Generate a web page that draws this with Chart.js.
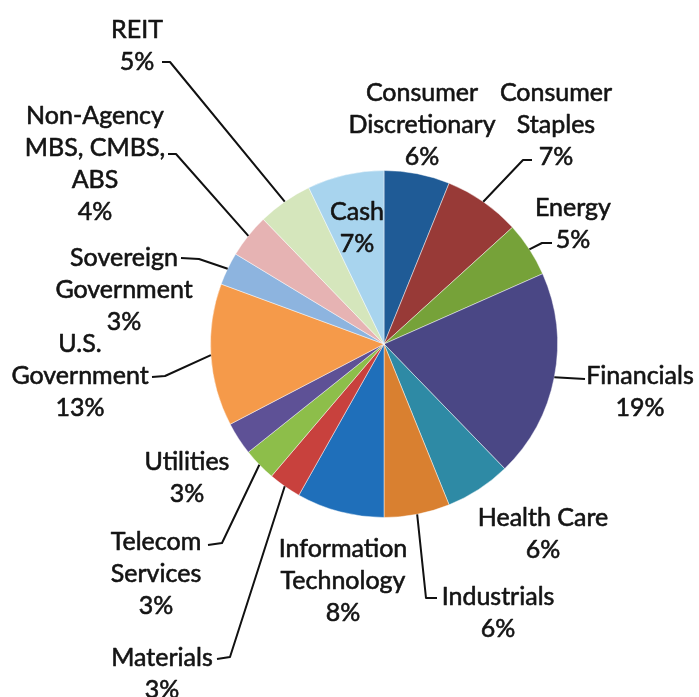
<!DOCTYPE html>
<html lang="en">
<head>
  <meta charset="UTF-8"/>
  <title>Portfolio Allocation</title>
  <script src="https://cdn.jsdelivr.net/npm/chart.js"></script>
  <style>
    html, body { margin: 0; padding: 0; background: #fff; }
    #wrap { width: 699px; height: 697px; position: relative; }
  </style>
</head>
<body>
  <div id="wrap">
    <canvas id="allocChart"></canvas>
  </div>

  <script>
    // Sector / asset class weights, clockwise from 12 o'clock
    const sectors = [
      'Consumer Discretionary', 'Consumer Staples', 'Energy', 'Financials',
      'Health Care', 'Industrials', 'Information Technology', 'Materials',
      'Telecom Services', 'Utilities', 'U.S. Government', 'Sovereign Government',
      'Non-Agency MBS, CMBS, ABS', 'REIT', 'Cash'
    ];
    const shares = [6, 7, 5, 19, 6, 6, 8, 3, 3, 3, 13, 3, 4, 5, 7];

    // how each name wraps on the chart
    const nameLines = [
      ['Consumer', 'Discretionary'], ['Consumer', 'Staples'], ['Energy'], ['Financials'],
      ['Health Care'], ['Industrials'], ['Information', 'Technology'], ['Materials'],
      ['Telecom', 'Services'], ['Utilities'], ['U.S.', 'Government'], ['Sovereign', 'Government'],
      ['Non-Agency', 'MBS, CMBS,', 'ABS'], ['REIT'], ['Cash']
    ];

    const sliceColors = [
      '#1f5b96', '#983a37', '#76a239', '#4a4785', '#2e8aa5', '#d98030', '#1f6fba',
      '#c8413d', '#8dbe4a', '#5e5196', '#f59a4a', '#8db4df', '#e6b3b3', '#d5e6bc', '#a8d4ee'
    ];

    // label block centre (x, first line y) and leader line bends, outward from the slice
    const labelLayout = [
      { x: 422, y: 93 },
      { x: 556, y: 93, leader: [[523, 160], [532, 160]] },
      { x: 573, y: 208, leader: [[542, 243], [552, 243]] },
      { x: 640, y: 376, leader: [[585, 379]] },
      { x: 543, y: 518 },
      { x: 498, y: 597, leader: [[426, 598], [437, 598]] },
      { x: 343, y: 549 },
      { x: 162, y: 658, leader: [[230, 657], [217, 659]] },
      { x: 156, y: 542, leader: [[222, 543], [208, 545]] },
      { x: 187, y: 462 },
      { x: 80, y: 344, leader: [[165, 376], [152, 377]] },
      { x: 124, y: 258, leader: [[199, 259], [181, 258]] },
      { x: 95, y: 116, leader: [[176, 154], [168, 154]] },
      { x: 137, y: 30, leader: [[170, 62], [162, 62]] },
      { x: 357, y: 212 }
    ];

    const lineGap = 32;

    const calloutPlugin = {
      id: 'callouts',
      afterDatasetsDraw(chart) {
        const ctx = chart.ctx;
        const arcs = chart.getDatasetMeta(0).data;
        ctx.save();
        ctx.strokeStyle = '#111';
        ctx.lineWidth = 2;
        ctx.lineJoin = 'round';
        arcs.forEach((arc, i) => {
          const lay = labelLayout[i];
          if (!lay.leader) return;
          const p = arc.getProps(['x', 'y', 'startAngle', 'endAngle', 'outerRadius'], true);
          const mid = (p.startAngle + p.endAngle) / 2;
          ctx.beginPath();
          ctx.moveTo(p.x + Math.cos(mid) * p.outerRadius, p.y + Math.sin(mid) * p.outerRadius);
          lay.leader.forEach(pt => ctx.lineTo(pt[0], pt[1]));
          ctx.stroke();
        });

        // slightly heavier text: fill plus a thin outline in the same colour
        ctx.fillStyle = '#141414';
        ctx.strokeStyle = '#141414';
        ctx.lineWidth = 0.6;
        ctx.font = '25px Lato, sans-serif';
        ctx.textAlign = 'center';
        ctx.textBaseline = 'middle';
        shares.forEach((v, i) => {
          const lay = labelLayout[i];
          const lines = nameLines[i].concat([v + '%']);
          lines.forEach((t, k) => {
            ctx.fillText(t, lay.x, lay.y + k * lineGap);
            ctx.strokeText(t, lay.x, lay.y + k * lineGap);
          });
        });
        ctx.restore();
      }
    };

    new Chart(document.getElementById('allocChart'), {
      type: 'pie',
      data: {
        labels: sectors,
        datasets: [{
          data: shares,
          backgroundColor: sliceColors,
          borderColor: 'rgba(255,255,255,0.45)',
          borderWidth: 1
        }]
      },
      options: {
        responsive: true,
        maintainAspectRatio: false,
        animation: false,
        layout: { padding: { left: 210, right: 141, top: 170, bottom: 179 } },
        plugins: {
          legend: { display: false },
          tooltip: { enabled: false }
        }
      },
      plugins: [calloutPlugin]
    });
  </script>
</body>
</html>
